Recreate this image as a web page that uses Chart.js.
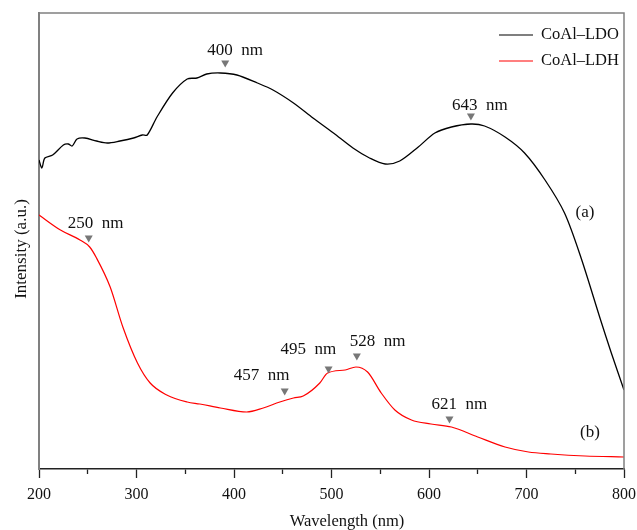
<html><head>
    <meta charset="UTF-8">
    <title>CoAl LDO / LDH UV-Vis</title>
    <script src="https://cdn.jsdelivr.net/npm/chart.js"></script>
    <style>
        body {
            margin: 0;
            padding: 0;
            background-color: #fff;
        }
    </style>
</head>
<body>
    <canvas id="spectraChart" width="637" height="530"></canvas>
    <script>
        // Curve (a): CoAl-LDO
        const ldoWavelength = [200, 203, 206, 214, 225, 230, 234, 239, 247, 259, 270, 283, 297, 306, 311, 321, 337, 352, 362, 372,
            386, 403, 424, 440, 461, 481, 502, 522, 539, 555, 570, 589, 606, 623, 643, 657, 678, 698, 719, 739, 756, 776, 787, 800];
        const ldoIntensity = [309, 301, 311, 314, 324, 325, 323, 330, 331, 328, 326, 328, 331, 334, 334, 352, 376, 390, 391, 395,
            396, 394, 386, 379, 366, 351, 336, 321, 311, 305, 308, 322, 336, 342, 345, 343, 332, 316, 289, 256, 211, 149, 116, 79];

        // Curve (b): CoAl-LDH
        const ldhWavelength = [200, 222, 242, 252, 259, 273, 286, 301, 314, 331, 352, 365, 386, 413, 430, 447, 461, 471, 488, 496,
            514, 525, 537, 551, 565, 582, 602, 623, 650, 678, 702, 725, 760, 800];
        const ldhIntensity = [254, 239, 229, 222, 211, 182, 142, 106, 86, 74, 67, 65, 61, 57, 61, 67, 71, 73, 86, 96,
            99, 102, 97, 76, 59, 49, 45, 42, 32, 22, 17, 15, 13, 12];

        const seriesNames = ['CoAl\u2013LDO', 'CoAl\u2013LDH'];
        const seriesColors = ['#000000', '#ff0000'];

        // Peak markers
        const peakLabels = ['250  nm', '400  nm', '643  nm', '457  nm', '495  nm', '528  nm', '621  nm'];
        const peakWavelength = [251, 391, 643, 452, 497, 526, 621];
        const peakIntensity = [230, 405, 352, 77, 99, 112, 49];

        const curveTags = ['(a)', '(b)'];
        const tagWavelength = [760, 765];
        const tagIntensity = [256, 36];

        const serif = 'Liberation Serif, Times New Roman, serif';

        // label placement relative to each marker (px)
        const labelShift = [[-21, -15], [-18, -13], [-19, -11], [-51, -16], [-48, -20], [-7, -15], [-18, -15]];

        const extrasPlugin = {
            id: 'extras',
            afterDraw(chart) {
                const { ctx, chartArea: area, scales: { x, y } } = chart;
                ctx.save();

                // frame on top and right
                ctx.strokeStyle = '#808080';
                ctx.lineWidth = 1.5;
                ctx.beginPath();
                ctx.moveTo(area.left, area.top);
                ctx.lineTo(area.right, area.top);
                ctx.lineTo(area.right, area.bottom);
                ctx.stroke();

                // peak markers and labels
                ctx.font = '17px ' + serif;
                ctx.textBaseline = 'middle';
                ctx.textAlign = 'left';
                peakLabels.forEach((text, i) => {
                    const px = x.getPixelForValue(peakWavelength[i]);
                    const py = y.getPixelForValue(peakIntensity[i]);
                    ctx.fillStyle = '#777';
                    ctx.beginPath();
                    ctx.moveTo(px - 4, py - 3.5);
                    ctx.lineTo(px + 4, py - 3.5);
                    ctx.lineTo(px, py + 3.5);
                    ctx.closePath();
                    ctx.fill();
                    ctx.fillStyle = '#111';
                    ctx.fillText(text, px + labelShift[i][0], py + labelShift[i][1]);
                });

                // curve tags
                ctx.textAlign = 'center';
                curveTags.forEach((text, i) => {
                    ctx.fillText(text, x.getPixelForValue(tagWavelength[i]), y.getPixelForValue(tagIntensity[i]));
                });

                // legend
                ctx.font = '16.5px ' + serif;
                ctx.textAlign = 'left';
                chart.data.datasets.forEach((ds, i) => {
                    const ly = 35 + i * 26;
                    ctx.strokeStyle = ds.borderColor;
                    ctx.lineWidth = 1.2;
                    ctx.beginPath();
                    ctx.moveTo(499, ly);
                    ctx.lineTo(533, ly);
                    ctx.stroke();
                    ctx.fillStyle = '#111';
                    ctx.fillText(ds.label, 541, ly);
                });

                // axis titles
                ctx.textAlign = 'center';
                ctx.fillText('Wavelength (nm)', 347, 522);
                ctx.font = '17px ' + serif;
                ctx.translate(22, 249);
                ctx.rotate(-Math.PI / 2);
                ctx.fillText('Intensity (a.u.)', 0, 0);

                ctx.restore();
            }
        };

        const chartCtx = document.getElementById('spectraChart').getContext('2d');
        new Chart(chartCtx, {
            type: 'line',
            data: {
                datasets: [
                    {
                        label: seriesNames[0],
                        data: ldoWavelength.map((w, i) => ({ x: w, y: ldoIntensity[i] })),
                        borderColor: seriesColors[0],
                        borderWidth: 1.3,
                        pointRadius: 0,
                        tension: 0.3
                    },
                    {
                        label: seriesNames[1],
                        data: ldhWavelength.map((w, i) => ({ x: w, y: ldhIntensity[i] })),
                        borderColor: seriesColors[1],
                        borderWidth: 1.2,
                        pointRadius: 0,
                        cubicInterpolationMode: 'monotone'
                    }
                ]
            },
            options: {
                responsive: false,
                animation: false,
                layout: { padding: { top: 13, right: 13, left: 0, bottom: 0 } },
                plugins: {
                    legend: { display: false },
                    tooltip: { enabled: false }
                },
                scales: {
                    x: {
                        type: 'linear',
                        min: 200,
                        max: 800,
                        afterFit: s => {
                            s.height = 61;
                            s.paddingLeft = 0;
                            s.paddingRight = 0;
                        },
                        border: { color: '#222', width: 1.5 },
                        grid: {
                            drawOnChartArea: false,
                            tickLength: 9,
                            tickColor: '#222',
                            tickWidth: 1.3,
                            tickBorderDash: c => (c.tick && c.tick.value % 100 !== 0) ? [4.5, 30] : []
                        },
                        ticks: {
                            stepSize: 50,
                            autoSkip: false,
                            maxRotation: 0,
                            padding: 7,
                            color: '#111',
                            font: { family: serif, size: 16 },
                            callback: v => (v % 100 === 0 ? v : '')
                        }
                    },
                    y: {
                        min: 0,
                        max: 456,
                        afterFit: s => { s.width = 39; },
                        border: { color: '#808080', width: 2 },
                        grid: { display: false },
                        ticks: { display: false }
                    }
                }
            },
            plugins: [extrasPlugin]
        });
    </script>
</body></html>
